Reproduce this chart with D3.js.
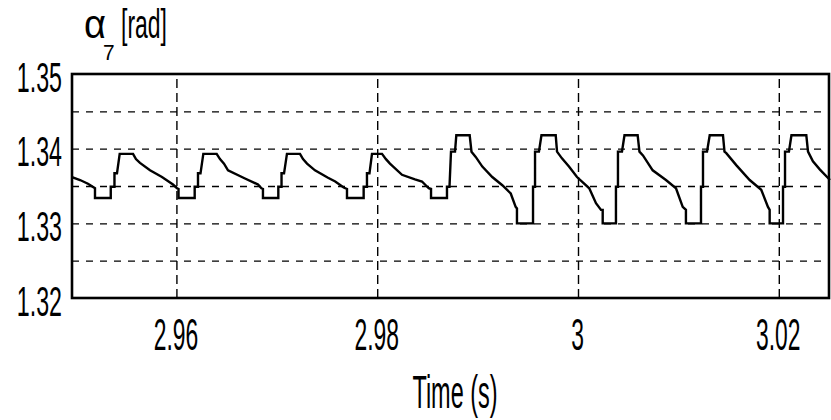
<!DOCTYPE html>
<html><head><meta charset="utf-8">
<script src="https://cdn.jsdelivr.net/npm/d3@7"></script>
<style>html,body{margin:0;padding:0;background:#fff;} svg{display:block;} text{font-family:"Liberation Sans",Arial,sans-serif;fill:#000;}</style>
</head><body><svg id="c" width="831" height="420"></svg>
<script>
const time = [
2.94960,2.95040,2.95119,2.95189,2.95189,
2.95346,2.95346,2.95383,2.95383,2.95408,2.95435,2.95568,2.95597,2.95637,2.95737,2.95856,2.95966,2.96006,2.96021,2.96021,
2.96182,2.96182,2.96215,2.96215,2.96240,2.96268,2.96401,2.96434,2.96474,2.96514,2.96683,2.96813,2.96847,2.96862,2.96862,
2.97015,2.97015,2.97047,2.97047,2.97072,2.97101,2.97231,2.97261,2.97301,2.97380,2.97510,2.97582,2.97666,2.97699,2.97699,
2.97865,2.97865,2.97898,2.97898,2.97923,2.97948,2.98048,2.98087,2.98127,2.98247,2.98376,2.98446,2.98513,2.98536,2.98536,
2.98695,2.98695,2.98720,2.98735,2.98775,2.98788,2.98921,2.98939,2.98981,2.99047,2.99146,2.99246,2.99330,2.99379,2.99392,2.99392,
2.99552,2.99552,2.99572,2.99572,2.99611,2.99636,2.99778,2.99791,2.99840,2.99910,2.99990,3.00112,3.00179,3.00229,3.00246,3.00246,
3.00378,3.00378,3.00398,3.00398,3.00438,3.00463,3.00594,3.00612,3.00647,3.00744,3.00876,3.00976,3.01043,3.01075,3.01075,
3.01225,3.01225,3.01245,3.01245,3.01285,3.01312,3.01444,3.01459,3.01477,3.01576,3.01710,3.01825,3.01892,3.01909,3.01909,
3.02042,3.02042,3.02062,3.02062,3.02101,3.02126,3.02274,3.02291,3.02340,3.02410,3.02510
];
const alpha = [
1.3362,1.3358,1.3353,1.3347,1.3334,
1.3334,1.3349,1.3349,1.3367,1.3367,1.3393,1.3393,1.3386,1.3381,1.3371,1.3362,1.3352,1.3347,1.3346,1.3334,
1.3334,1.3349,1.3349,1.3367,1.3367,1.3393,1.3393,1.3386,1.3380,1.3371,1.3360,1.3352,1.3347,1.3346,1.3334,
1.3334,1.3349,1.3349,1.3367,1.3367,1.3393,1.3393,1.3386,1.3380,1.3371,1.3361,1.3356,1.3348,1.3346,1.3334,
1.3334,1.3349,1.3349,1.3367,1.3367,1.3393,1.3393,1.3386,1.3380,1.3365,1.3359,1.3356,1.3347,1.3346,1.3334,
1.3334,1.3349,1.3349,1.3396,1.3396,1.3418,1.3418,1.3396,1.3389,1.3376,1.3362,1.3351,1.3340,1.3322,1.3320,1.3300,
1.3300,1.3349,1.3349,1.3396,1.3396,1.3418,1.3418,1.3396,1.3387,1.3376,1.3362,1.3347,1.3327,1.3318,1.3318,1.3300,
1.3300,1.3349,1.3349,1.3396,1.3396,1.3418,1.3418,1.3396,1.3391,1.3371,1.3358,1.3347,1.3322,1.3318,1.3300,
1.3300,1.3349,1.3349,1.3396,1.3396,1.3418,1.3418,1.3396,1.3394,1.3378,1.3358,1.3345,1.3322,1.3318,1.3300,
1.3300,1.3349,1.3349,1.3396,1.3396,1.3418,1.3418,1.3396,1.3383,1.3372,1.3358
];
const yTickValues = [1.32, 1.33, 1.34, 1.35];
const yTickLabels = ["1.32", "1.33", "1.34", "1.35"];
const xTickValues = [2.96, 2.98, 3.00, 3.02];
const xTickLabels = ["2.96", "2.98", "3", "3.02"];
const yGridValues = [1.325, 1.33, 1.335, 1.34, 1.345];
const xDomain = [2.9496, 3.0251];
const yDomain = [1.32, 1.35];

const L = 72, R = 830, T = 74, B = 298;
const svg = d3.select("#c");
const x = d3.scaleLinear().domain(xDomain).range([L, R]);
const y = d3.scaleLinear().domain(yDomain).range([B, T]);

// vertical grid
svg.append("g").attr("transform", `translate(0,${B})`)
  .call(d3.axisBottom(x).tickValues(xTickValues).tickSize(-(B - T)).tickFormat(""))
  .call(g => { g.select(".domain").remove();
    g.selectAll("line").attr("stroke", "#000").attr("stroke-width", 1.4).attr("stroke-dasharray", "9,5"); });
// horizontal grid
svg.append("g").attr("transform", `translate(${L},0)`)
  .call(d3.axisLeft(y).tickValues(yGridValues).tickSize(-(R - L)).tickFormat(""))
  .call(g => { g.select(".domain").remove();
    g.selectAll("line").attr("stroke", "#000").attr("stroke-width", 1.4).attr("stroke-dasharray", "7,7"); });

// signal
const data = time.map((t, i) => ({ t, v: alpha[i] }));
svg.append("path").datum(data)
  .attr("fill", "none").attr("stroke", "#000").attr("stroke-width", 2.4)
  .attr("stroke-linejoin", "miter")
  .attr("d", d3.line().x(d => x(d.t)).y(d => y(d.v)));

// frame
svg.append("rect").attr("x", L).attr("y", T).attr("width", R - L - 1).attr("height", B - T)
  .attr("fill", "none").attr("stroke", "#000").attr("stroke-width", 2.6);

// y tick labels
const sy = 0.54;
svg.append("g").attr("transform", `translate(${L},0)`)
  .call(d3.axisLeft(y).tickValues(yTickValues).tickSize(0).tickFormat((d, i) => yTickLabels[i]))
  .call(g => { g.select(".domain").remove();
    g.attr("font-family", null).attr("font-size", null);
    g.selectAll("text").attr("font-size", 43).attr("text-anchor", "end")
      .attr("x", -10 / sy).attr("dy", 0).attr("y", 17)
      .attr("transform", `scale(${sy},1)`); });

// x tick labels
const sx = 0.52;
svg.append("g").attr("transform", `translate(0,${B})`)
  .call(d3.axisBottom(x).tickValues(xTickValues).tickSize(0).tickFormat((d, i) => xTickLabels[i]))
  .call(g => { g.select(".domain").remove();
    g.attr("font-family", null).attr("font-size", null);
    g.selectAll("text").attr("font-size", 44).attr("text-anchor", "middle")
      .attr("x", -1 / sx).attr("dy", 0).attr("y", 52)
      .attr("transform", `scale(${sx},1)`); });

// axis titles
svg.append("text").attr("transform", "translate(455,408) scale(0.51,1)")
  .attr("text-anchor", "middle").attr("font-size", 46).text("Time (s)");
svg.append("text").attr("transform", "translate(84,38) scale(0.95,1)")
  .attr("font-size", 40).text("α");
svg.append("text").attr("transform", "translate(103,60) scale(0.95,1)")
  .attr("font-size", 22).text("7");
svg.append("text").attr("transform", "translate(121,38) scale(0.56,1)")
  .attr("font-size", 41).text("[rad]");
</script></body></html>
